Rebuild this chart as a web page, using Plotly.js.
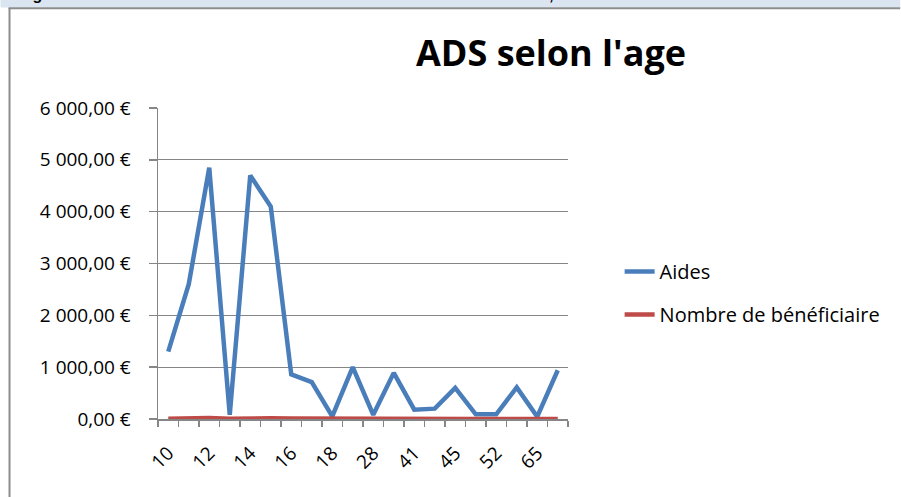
<!DOCTYPE html>
<html>
<head>
<meta charset="utf-8">
<script src="https://cdn.plot.ly/plotly-3.0.1.min.js"></script>
<style>
html,body{margin:0;padding:0;background:#fff;overflow:hidden;}
#chart{width:901px;height:497px;}
</style>
</head>
<body>
<div id="chart"></div>
<script>
// Age categories (every other one labelled on the axis)
const ages = ["10","11","12","13","14","15","16","17","18","20","28","35","41","42","45","48","52","58","65","70"];
const shownAges = ["10","12","14","16","18","28","41","45","52","65"];
// Aides (€)
const aides = [1300, 2600, 4850, 80, 4700, 4100, 860, 710, 50, 1000, 80, 890, 180, 200, 600, 90, 90, 610, 45, 940];
// Nombre de bénéficiaire
const beneficiaires = [5, 12, 20, 3, 12, 15, 8, 5, 3, 5, 2, 4, 6, 4, 3, 2, 2, 3, 1, 2];
const yTicks = [0, 1000, 2000, 3000, 4000, 5000, 6000];
const yTickText = ["0,00 €", "1 000,00 €", "2 000,00 €", "3 000,00 €", "4 000,00 €", "5 000,00 €", "6 000,00 €"];

// plot area in pixels
const L = 157.7, R = 568.3, T = 108, B = 419;
const W = 901, H = 497;
const px = x => (x - L) / (R - L);
const py = y => (B - y) / (B - T);

const font = "Open Sans, Liberation Sans, sans-serif";
const fs = 19;

const traces = [
  {x: ages, y: aides, name: "Aides", type: "scatter", mode: "lines",
   line: {color: "#4a7ebb", width: 4.5}, legendgroup: "a"},
  {x: ages, y: beneficiaires, name: "Nombre de bénéficiaire", type: "scatter", mode: "lines",
   line: {color: "#be4b48", width: 4.5}, legendgroup: "b"}
];

const layout = {
  width: W, height: H,
  margin: {l: L, r: W - R, t: T, b: H - B, pad: 0},
  paper_bgcolor: "#ffffff", plot_bgcolor: "#ffffff",
  font: {family: font, size: fs, color: "#000"},
  title: {text: "<b>ADS selon l'age</b>", font: {family: font, size: 36, color: "#000"},
          x: 551 / W, xanchor: "center", y: 1 - 53 / H, yanchor: "middle"},
  showlegend: true,
  legend: {x: px(620), xanchor: "left", y: py(293), yanchor: "middle",
           font: {family: font, size: 20, color: "#000"}, tracegroupgap: 14,
           traceorder: "grouped", bgcolor: "rgba(0,0,0,0)"},
  xaxis: {type: "category", categoryarray: ages, tickson: "boundaries",
          tickvals: ages, ticktext: ages.map(a => shownAges.includes(a) ? a : ""),
          tickangle: -45, ticks: "outside", ticklen: 6, tickcolor: "#868686", tickwidth: 1.5,
          showline: true, linecolor: "#868686", linewidth: 1.5, showgrid: false, zeroline: false,
          tickfont: {family: font, size: fs, color: "#000"}, range: [-0.5, ages.length - 0.5],
          ticklabelstandoff: 14, fixedrange: true},
  yaxis: {range: [0, 6000], tickvals: yTicks, ticktext: yTickText,
          ticks: "outside", ticklen: 8, tickcolor: "#868686", tickwidth: 1.5,
          showline: true, linecolor: "#868686", linewidth: 1.5,
          showgrid: true, gridcolor: "#868686", gridwidth: 1, zeroline: false,
          tickfont: {family: font, size: fs, color: "#000"}, ticklabelstandoff: 14,
          fixedrange: true},
  shapes: [
    {type: "rect", xref: "paper", yref: "paper", x0: px(0), x1: px(W), y0: py(0), y1: py(7.5),
     fillcolor: "#dbe5f1", line: {width: 0}, layer: "below"},
    {type: "line", xref: "paper", yref: "paper", x0: px(8), x1: px(W), y0: py(8.2), y1: py(8.2),
     line: {color: "#8c8c8c", width: 2}},
    {type: "line", xref: "paper", yref: "paper", x0: px(9), x1: px(9), y0: py(8), y1: py(H),
     line: {color: "#8c8c8c", width: 2}}
  ],
  annotations: [
    {text: "<b>Total général</b>", xref: "paper", yref: "paper", x: px(-12), y: py(5),
     xanchor: "left", yanchor: "bottom", showarrow: false,
     font: {family: "Liberation Sans, sans-serif", size: 16, color: "#000"}},
    {text: "<b>24 601,00 €</b>", xref: "paper", yref: "paper", x: px(498), y: py(5),
     xanchor: "left", yanchor: "bottom", showarrow: false,
     font: {family: "Liberation Sans, sans-serif", size: 16, color: "#000"}}
  ]
};

Plotly.newPlot("chart", traces, layout, {displayModeBar: false, staticPlot: true});
</script>
</body>
</html>
